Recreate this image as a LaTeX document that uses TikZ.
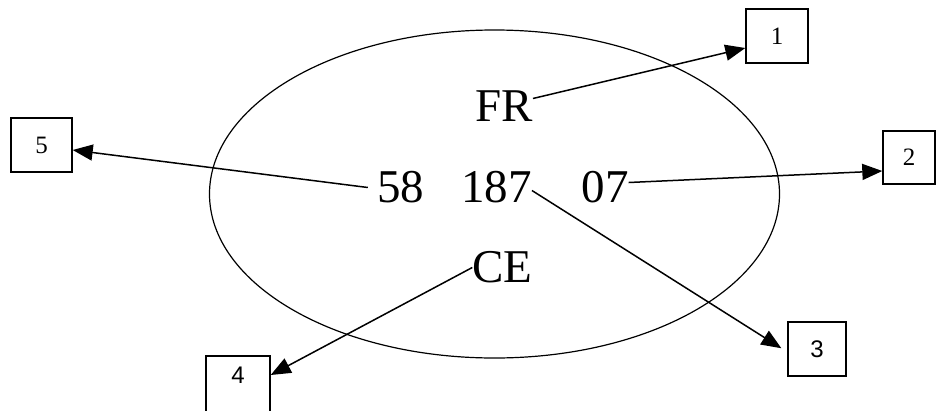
\documentclass[tikz,border=0pt]{standalone}
\usepackage{fontspec}
\setmainfont{Liberation Serif}
\newfontfamily\arialfont{Liberation Sans}
\usetikzlibrary{arrows.meta,shapes.geometric}
\tikzset{
  numbox/.style={draw,line width=1.4pt,minimum width=62pt,minimum height=54pt,%
    inner sep=0pt,font=\fontsize{25}{25}\selectfont},
  code/.style={inner sep=0pt,font=\fontsize{47}{47}\selectfont},
  oval/.style={draw,ellipse,line width=1.2pt,inner sep=0pt},
  flow/.style={-{Triangle[length=20pt,width=16pt]},line width=1.5pt},
}

\begin{document}
\begin{tikzpicture}[x=1pt,y=-1pt]
\path[use as bounding box,clip] (0,0) rectangle (936,410);
% the code and its parts
\node[oval,minimum width=570pt,minimum height=328pt] (ring) at (494.5,194) {};
\node[code] (fr)   at (504,106.5) {FR};
\node[code] (n58)  at (400.5,187.5) {58};
\node[code] (n187) at (496.5,187.5) {187};
\node[code] (n07)  at (605,187.5) {07};
\node[code] (ce)   at (502.5,267.5) {CE};
% numbered boxes
\node[numbox] (b1) at (777,36) {1};
\node[numbox,minimum width=52pt,minimum height=53pt] (b2) at (909,157.5) {2};
\node[numbox,minimum width=58pt,font=\arialfont\fontsize{24}{24}\selectfont] (b3) at (817,349) {3};
\node[numbox,minimum width=64pt,minimum height=58pt,text depth=20pt,font=\arialfont\fontsize{24}{24}\selectfont] (b4) at (238,385) {4};
\node[numbox,minimum width=61pt] (b5) at (41.5,145) {5};
% arrows
\draw[flow] ([yshift=8pt]fr.east) -- ([yshift=-12pt]b1.west);
\draw[flow] ([yshift=5pt]n07.east) -- ([yshift=-13.5pt]b2.west);
\draw[flow,shorten >=7pt] ([yshift=-3pt]n187.east) -- ([yshift=-3pt]b3.west);
\draw[flow] (ce.west) -- ([yshift=10pt]b4.east);
\draw[flow] ([xshift=-9pt]n58.west) -- ([yshift=-5pt]b5.east);
\end{tikzpicture}
\end{document}
